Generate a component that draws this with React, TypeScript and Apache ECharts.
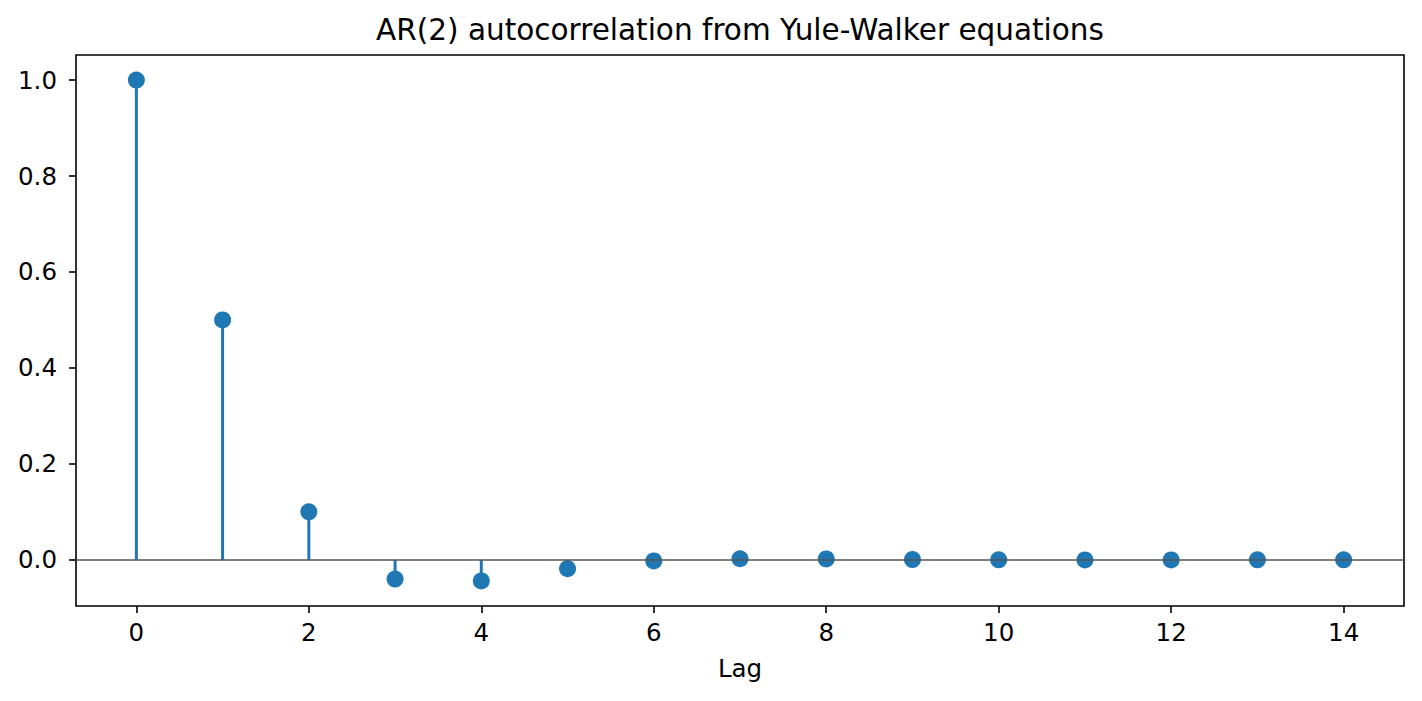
import { useEffect, useRef } from 'react'
import * as echarts from 'echarts'

const LAGS = [0, 1, 2, 3, 4, 5, 6, 7, 8, 9, 10, 11, 12, 13, 14]
const ACF = [1.0, 0.5, 0.1, -0.04, -0.044, -0.0184, -0.0022, 0.0023, 0.0019, 0.0006, 0.0, -0.0001, -0.0001, 0.0, 0.0]
const X_TICKS = [0, 2, 4, 6, 8, 10, 12, 14]
const Y_TICKS = [0.0, 0.2, 0.4, 0.6, 0.8, 1.0]

const C0 = '#1f77b4'
const FONT = 'DejaVu Sans'

// stem plot: custom series for the stems, scatter for the heads, markLine for the baseline
export default function App() {
  const elRef = useRef<HTMLDivElement>(null)

  useEffect(() => {
    document.body.style.margin = '0'
    if (!elRef.current) return
    const chart = echarts.init(elRef.current, null, { renderer: 'svg' })
    const points = LAGS.map((x, i) => [x, ACF[i]])

    chart.setOption({
      animation: false,
      backgroundColor: '#fff',
      textStyle: { fontFamily: FONT },
      grid: {
        left: 76,
        right: 18,
        top: 55,
        bottom: 95,
        show: true,
        borderColor: '#000',
        borderWidth: 1.6,
        containLabel: false,
      },
      graphic: [
        {
          type: 'text',
          x: 740,
          y: 30,
          style: {
            text: 'AR(2) autocorrelation from Yule-Walker equations',
            fontFamily: FONT,
            fontSize: 29.5,
            fill: '#000',
            align: 'center',
            verticalAlign: 'middle',
          },
        },
      ],
      xAxis: {
        type: 'value',
        min: -0.7,
        max: 14.7,
        name: 'Lag',
        nameLocation: 'middle',
        nameGap: 50,
        nameTextStyle: { fontFamily: FONT, fontSize: 24.5, color: '#000' },
        axisLine: { show: false, onZero: false },
        splitLine: { show: false },
        axisTick: {
          show: true,
          length: 7,
          lineStyle: { color: '#000', width: 1.6 },
          customValues: X_TICKS,
        },
        axisLabel: {
          fontFamily: FONT,
          fontSize: 24.5,
          color: '#000',
          margin: 14,
          customValues: X_TICKS,
          formatter: (v: number) => String(v),
        },
      },
      yAxis: {
        type: 'value',
        min: -0.0962,
        max: 1.0522,
        axisLine: { show: false, onZero: false },
        splitLine: { show: false },
        axisTick: {
          show: true,
          length: 7,
          lineStyle: { color: '#000', width: 1.6 },
          customValues: Y_TICKS,
        },
        axisLabel: {
          fontFamily: FONT,
          fontSize: 24.5,
          color: '#000',
          margin: 19,
          customValues: Y_TICKS,
          formatter: (v: number) => v.toFixed(1),
        },
      },
      series: [
        {
          type: 'custom',
          z: 2,
          data: points,
          renderItem: (params: any, api: any) => {
            const p0 = api.coord([api.value(0), 0])
            const p1 = api.coord([api.value(0), api.value(1)])
            return {
              type: 'line',
              shape: { x1: p0[0], y1: p0[1], x2: p1[0], y2: p1[1] },
              style: { stroke: C0, lineWidth: 3 },
            }
          },
          markLine: {
            silent: true,
            symbol: 'none',
            label: { show: false },
            lineStyle: { color: '#555', width: 1.6, type: 'solid' },
            data: [{ yAxis: 0 }],
          },
        },
        {
          type: 'scatter',
          z: 3,
          data: points,
          symbol: 'circle',
          symbolSize: 17,
          itemStyle: { color: C0, opacity: 1 },
        },
      ],
    })

    return () => chart.dispose()
  }, [])

  return <div ref={elRef} style={{ width: 1422, height: 701 }} />
}
